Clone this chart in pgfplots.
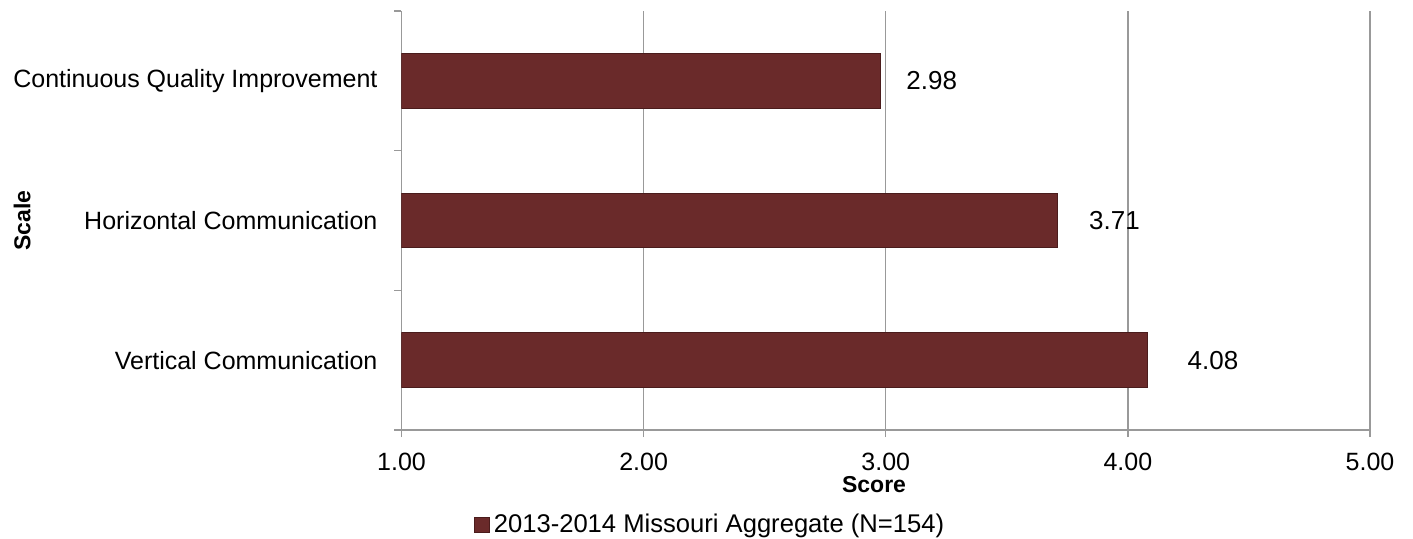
\documentclass[border=0pt]{standalone}
\usepackage{pgfplots}
\pgfplotsset{compat=1.18}
\usepackage{pgfplotstable}
\usepackage{fontspec}
\setmainfont{Liberation Sans}
\definecolor{barcol}{HTML}{6A2A2A}
\definecolor{baredge}{HTML}{4A1C1C}
\definecolor{axgray}{HTML}{999999}
\pgfplotstableread{
x y off
4.08 0 20
3.71 1 15.5
2.98 2 12.5
}\scores
\begin{document}
\begin{tikzpicture}
\useasboundingbox (-200.75pt,-54pt) rectangle (505.75pt,215pt);
\begin{axis}[
 at={(0,0)}, anchor=south west,
 scale only axis, width=484.25pt, height=209.5pt,
 xmin=1, xmax=5, ymin=-0.5, ymax=2.5,
 axis x line*=bottom, axis y line*=left,
 axis line style={axgray, line width=0.75pt},
 /pgf/number format/assume math mode=true,
 xtick={1,2,3,4,5},
 xticklabel={\pgfmathprintnumber[fixed,fixed zerofill,precision=2]{\tick}},
 xticklabel style={font=\fontsize{12.5}{15}\selectfont, yshift=-4.5pt},
 xmajorgrids, grid style={axgray, line width=0.75pt},
 tick align=outside,
 major tick length=3.5pt,
 tick style={axgray, line width=0.75pt},
 ytick={-0.5,0.5,1.5,2.5},
 yticklabels={},
 extra y ticks={0,1,2},
 extra y tick labels={Vertical Communication, Horizontal Communication, Continuous Quality Improvement},
 extra y tick style={major tick length=0pt, grid=none},
 yticklabel style={font=\fontsize{12.5}{15}\selectfont, xshift=-8.5pt},
 xlabel={Score},
 xlabel style={at={(axis description cs:0.4879,-0.1313)}, anchor=center, font=\fontsize{11.5}{14}\selectfont\bfseries},
 ylabel={Scale},
 ylabel style={at={(axis description cs:-0.3918,0.5)}, anchor=center, font=\fontsize{11.5}{14}\selectfont\bfseries},
 legend style={at={(axis description cs:0.3196,-0.2267)}, anchor=center, draw=none, fill=none, inner sep=0pt, font=\fontsize{12.8}{15}\selectfont},
]
\addplot[xbar, bar width=0.393, fill=barcol, draw=baredge, line width=0.5pt,
 legend image code/.code={\draw[fill=barcol, draw=baredge] (0pt,-3.75pt) rectangle (7.5pt,3.75pt);},
 nodes near coords, point meta=x,
 visualization depends on={\thisrow{off} \as \myoff},
 nodes near coords style={font=\fontsize{13}{15}\selectfont, anchor=west, inner sep=0pt, xshift=\myoff pt, black, /pgf/number format/.cd, fixed, fixed zerofill, precision=2},
] table[x=x,y=y]{\scores};
\addlegendentry{2013-2014 Missouri Aggregate (N=154)}
\end{axis}
\end{tikzpicture}
\end{document}
